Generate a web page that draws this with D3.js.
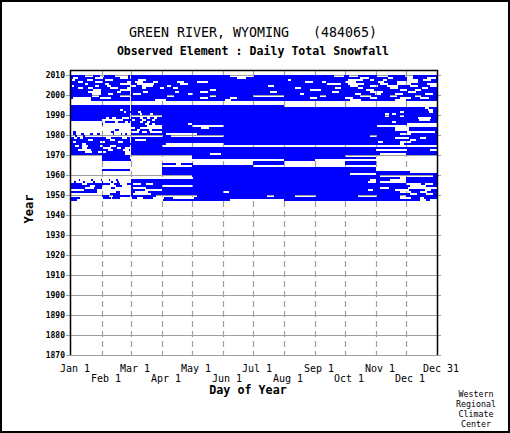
<!DOCTYPE html>
<html>
<head>
<meta charset="utf-8">
<script src="https://cdn.jsdelivr.net/npm/d3@7/dist/d3.min.js"></script>
<style>
  body { margin: 0; background: #fff; }
  text { font-family: "DejaVu Sans Mono", "Liberation Mono", monospace; fill: #000; }
</style>
</head>
<body>
<script>
// years with records, newest first, and the day-of-year ranges that are missing
var years = [2010, 2009, 2008, 2007, 2006, 2005, 2004, 2003, 2002, 2001,
             2000, 1999, 1998, 1997, 1996, 1995, 1994, 1993, 1992, 1991,
             1990, 1989, 1988, 1987, 1986, 1985, 1984, 1983, 1982, 1981,
             1980, 1979, 1978, 1977, 1976, 1975, 1974, 1973, 1972, 1971,
             1970, 1969, 1968, 1967, 1966, 1965, 1964, 1963, 1962, 1961,
             1960, 1959, 1958, 1957, 1956, 1955, 1954, 1953, 1952, 1951,
             1950, 1949, 1948];

var gaps = [
  [[15,22],[30,33],[45,57],[160,183],[264,273],[279,287],[307,317],[335,342]],
  [[3,7],[25,32],[50,57],[167,175],[290,298],[318,322],[337,342],[357,365]],
  [[2,4],[17,22],[35,42],[68,75],[218,220],[278,292],[300,303],[313,316],[337,347],[353,360]],
  [[8,12],[25,32],[57,60],[65,72],[83,87],[107,113],[127,137],[235,242],[252,255],[275,285],[308,313],[327,347]],
  [[15,17],[35,38],[50,60],[67,83],[110,117],[257,270],[278,293],[310,317],[327,340],[357,366]],
  [[2,3],[25,28],[37,40],[60,65],[72,82],[97,100],[198,203],[280,287],[300,307],[317,327],[340,347],[360,366]],
  [[8,12],[18,22],[40,47],[57,60],[72,75],[90,93],[103,107],[225,230],[265,270],[288,292],[320,327],[352,357]],
  [[23,30],[50,60],[140,145],[240,250],[296,303],[330,336],[345,350]],
  [[18,30],[47,50],[73,77],[105,108],[130,137],[200,206],[262,268],[300,312],[338,345]],
  [[22,30],[38,42],[63,70],[118,122],[230,233],[285,290],[305,310],[325,332],[355,362]],
  [[22,28],[50,60],[97,103],[140,145],[183,213],[250,255],[290,300],[320,326],[345,350]],
  [[3,20],[30,40],[130,137],[160,166],[240,246],[275,282],[300,306],[330,340],[350,358]],
  [[1,20],[85,95],[155,160],[280,290],[325,335]],
  [[1,366]],
  [[1,366]],
  [[214,366]],
  [[355,358]],
  [[50,52],[358,362]],
  [[54,55],[68,70],[330,333],[359,362]],
  [[70,71],[80,82],[315,318],[322,325]],
  [[61,91],[315,318],[330,333]],
  [[36,38],[42,45],[52,58],[70,72],[77,79],[84,86],[348,360]],
  [[32,52],[62,64],[72,75],[82,84],[349,359]],
  [[1,31],[32,34],[45,47],[55,57],[70,72],[77,79],[322,325]],
  [[1,31],[33,60],[75,78],[82,84],[118,121],[337,366]],
  [[1,31],[32,60],[77,91],[122,153],[307,366]],
  [[1,31],[32,60],[61,64],[70,91],[131,138],[325,338]],
  [[1,31],[32,44],[49,60],[67,69],[79,81],[325,338]],
  [[1,2],[6,31],[32,40],[44,60],[61,68],[72,76],[80,91],[337,364]],
  [[1,2],[6,10],[14,19],[23,26],[30,42],[44,50],[52,54],[57,60],[96,126],[330,340]],
  [[1,4],[7,12],[15,31],[32,60],[61,92],[101,153],[300,306]],
  [[4,6],[10,12],[36,40],[52,56],[325,338],[350,355]],
  [[18,22],[40,44],[65,75],[340,345]],
  [[3,5],[30,34],[48,52],[308,312],[330,340]],
  [[12,15],[96,153],[330,333]],
  [[5,8],[12,17],[30,32],[40,45],[92,366]],
  [[12,16],[33,40],[47,50],[55,60]],
  [[8,13],[14,20],[38,42],[53,58],[306,336],[360,366]],
  [[15,21],[28,31],[33,35],[55,60]],
  [[55,60],[140,150],[310,335]],
  [[1,31],[61,121],[275,366]],
  [[1,31],[61,121],[306,366]],
  [[1,31],[61,213],[245,366]],
  [[1,182],[214,274],[306,366]],
  [[1,91],[106,110],[123,182],[214,274],[306,366]],
  [[1,121],[183,366]],
  [[1,91],[306,366]],
  [[1,31],[61,91],[306,366]],
  [[1,91],[340,366]],
  [[1,91],[280,305]],
  [[1,121],[310,362]],
  [[1,122],[330,335]],
  [[1,8],[10,20],[23,30],[32,38],[40,45],[48,60],[300,305],[320,335]],
  [[1,3],[6,12],[15,22],[25,31],[33,40],[43,46],[49,60],[298,305],[310,335]],
  [[12,16],[40,43],[50,56],[63,70],[76,82],[336,350],[355,362]],
  [[20,24],[32,45],[52,60],[92,122],[340,355]],
  [[15,23],[32,40],[45,60],[63,75],[310,318],[338,366]],
  [[1,13],[27,31],[32,60],[75,91],[298,302],[325,338],[355,360]],
  [[27,31],[32,45],[50,60],[65,77],[153,158],[330,340],[350,356]],
  [[1,31],[32,39],[50,60],[63,80],[340,346],[356,362]],
  [[1,31],[39,42],[86,126],[197,203],[225,245],[288,306],[330,335]],
  [[10,32],[41,41],[50,61],[67,72],[83,93],[103,123],[330,340],[350,353]],
  [[7,92],[160,213],[350,355],[360,366]]
];

var yearTicks = [1870, 1880, 1890, 1900, 1910, 1920, 1930, 1940, 1950, 1960, 1970, 1980, 1990, 2000, 2010];
var monthDays = [32, 61, 92, 122, 153, 183, 214, 245, 275, 306, 336];
var upperLabels = ["Jan 1", "Mar 1", "May 1", "Jul 1", "Sep 1", "Nov 1", "Dec 31"];
var upperDays = [1, 61, 122, 183, 245, 306, 367];
var lowerLabels = ["Feb 1", "Apr 1", "Jun 1", "Aug 1", "Oct 1", "Dec 1"];
var lowerDays = [32, 92, 153, 214, 275, 336];
var footer = ["Western", "Regional", "Climate", "Center"];

var width = 510, height = 433;
var x = d3.scaleLinear().domain([1, 367]).range([71, 437]);
var y = d3.scaleLinear().domain([1870, 2012.5]).range([355, 70]);

var svg = d3.select('body').append('svg')
    .attr('width', width)
    .attr('height', height);

svg.append('rect')
    .attr('x', 1).attr('y', 1)
    .attr('width', width - 2).attr('height', height - 2)
    .attr('fill', '#fff').attr('stroke', '#000').attr('stroke-width', 2);

// titles
svg.append('text').attr('x', 253).attr('y', 37)
    .attr('text-anchor', 'middle').style('font-size', '13.3px')
    .style('white-space', 'pre')
    .text('GREEN RIVER, WYOMING   (484065)');
svg.append('text').attr('x', 253).attr('y', 55)
    .attr('text-anchor', 'middle').style('font-size', '11.6px').style('font-weight', 'bold')
    .text('Observed Element : Daily Total Snowfall');

// grid
svg.selectAll('line.h').data(yearTicks).enter().append('line')
    .attr('x1', 66).attr('x2', 441)
    .attr('y1', function (d) { return y(d) + 0.5; })
    .attr('y2', function (d) { return y(d) + 0.5; })
    .attr('stroke', '#a0a0a0').attr('stroke-width', 1.2);

svg.selectAll('line.v').data(monthDays).enter().append('line')
    .attr('x1', function (d) { return x(d) + 0.5; })
    .attr('x2', function (d) { return x(d) + 0.5; })
    .attr('y1', 71).attr('y2', 355)
    .attr('stroke', '#a0a0a0').attr('stroke-width', 1.2)
    .attr('stroke-dasharray', '6,4');

// turn the gap lists into runs of observed days (no Feb 29 outside leap years)
var isLeap = function (yr) { return (yr % 4 === 0 && yr % 100 !== 0) || yr % 400 === 0; };
var runs = [];
years.forEach(function (yr, i) {
    var start = null;
    for (var d = 1; d <= 367; d++) {
        var missing = d === 367 || (d === 60 && !isLeap(yr)) ||
            gaps[i].some(function (g) { return d >= g[0] && d <= g[1]; });
        if (!missing && start === null) start = d;
        if (missing && start !== null) { runs.push({ year: yr, from: start, to: d }); start = null; }
    }
});

svg.selectAll('rect.obs').data(runs).enter().append('rect')
    .attr('x', function (d) { return x(d.from); })
    .attr('width', function (d) { return x(d.to) - x(d.from); })
    .attr('y', function (d) { return y(d.year); })
    .attr('height', function (d) { return y(d.year - 1) - y(d.year); })
    .attr('fill', '#0000ff')
    .attr('shape-rendering', 'crispEdges');

// frame of the plot
svg.append('path')
    .attr('d', 'M70.5,355 V70.5 H437.5 V355')
    .attr('fill', 'none').attr('stroke', '#000').attr('stroke-width', 1.5);

// labels
svg.selectAll('text.yt').data(yearTicks).enter().append('text')
    .attr('x', 65).attr('y', function (d) { return y(d) + 3; })
    .attr('text-anchor', 'end').style('font-size', '8px').style('font-weight', 'bold')
    .text(function (d) { return d; });

svg.selectAll('text.xu').data(upperLabels).enter().append('text')
    .attr('x', function (d, i) { return x(upperDays[i]) + 4; })
    .attr('y', 372).attr('text-anchor', 'middle').style('font-size', '10px')
    .text(function (d) { return d; });

svg.selectAll('text.xl').data(lowerLabels).enter().append('text')
    .attr('x', function (d, i) { return x(lowerDays[i]) + 4; })
    .attr('y', 382).attr('text-anchor', 'middle').style('font-size', '10px')
    .text(function (d) { return d; });

svg.append('text').attr('x', 248).attr('y', 394)
    .attr('text-anchor', 'middle').style('font-size', '11.7px').style('font-weight', 'bold')
    .text('Day of Year');

svg.append('text').attr('transform', 'translate(33,209) rotate(-90)')
    .attr('text-anchor', 'middle').style('font-size', '12px').style('font-weight', 'bold')
    .text('Year');

svg.selectAll('text.ft').data(footer).enter().append('text')
    .attr('x', 476).attr('y', function (d, i) { return 397 + i * 10; })
    .attr('text-anchor', 'middle').style('font-size', '8.3px')
    .text(function (d) { return d; });
</script>
</body>
</html>
